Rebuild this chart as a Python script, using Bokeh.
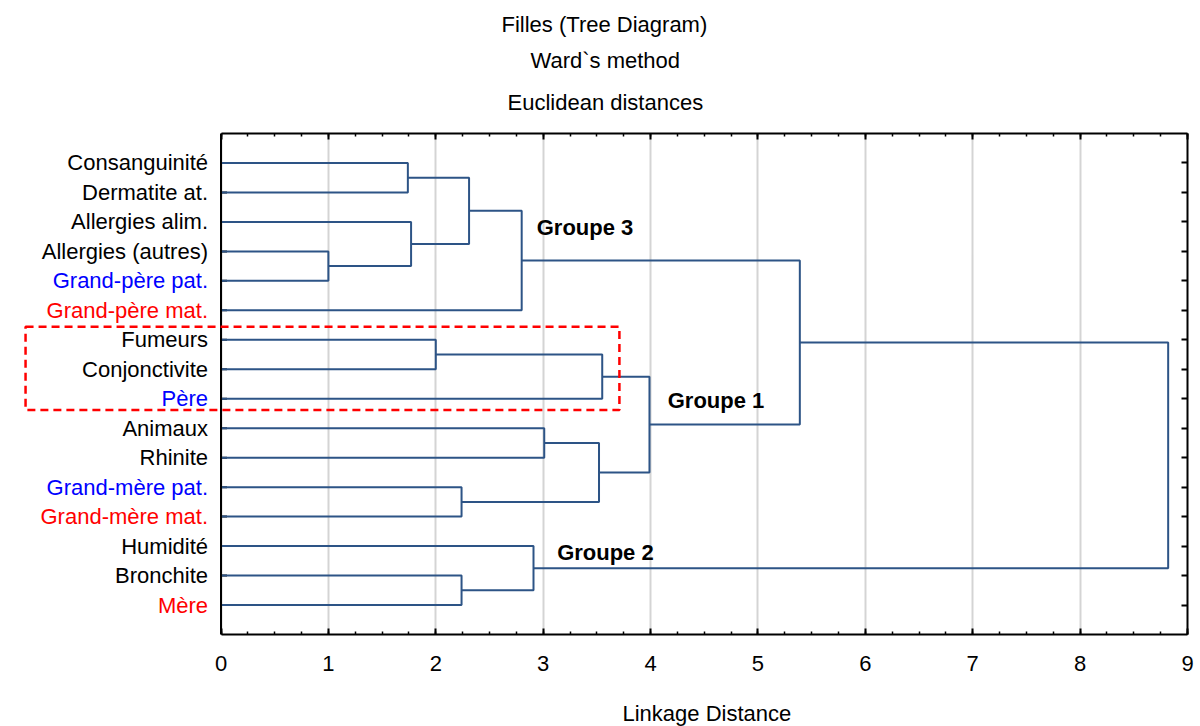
from bokeh.plotting import figure
from bokeh.models import (Range1d, FixedTicker, LinearAxis, BoxAnnotation, Span,
                          Title, CustomJSTickFormatter)
from bokeh.embed import file_html
from bokeh.resources import INLINE
from bokeh.core.properties import value

# Leaves, top to bottom
leaves = ["Consanguinité", "Dermatite at.", "Allergies alim.", "Allergies (autres)",
          "Grand-père pat.", "Grand-père mat.", "Fumeurs", "Conjonctivite", "Père",
          "Animaux", "Rhinite", "Grand-mère pat.", "Grand-mère mat.", "Humidité",
          "Bronchite", "Mère"]
leaf_colors = ["black", "black", "black", "black", "blue", "red", "black", "black",
               "blue", "black", "black", "blue", "red", "black", "black", "red"]

# Ward merges: node ids 0-15 are leaves, merge k creates node 16+k
merge_a = [3, 0, 2, 6, 11, 14, 17, 22, 13, 9, 25, 19, 27, 23, 29]
merge_b = [4, 1, 16, 7, 12, 15, 18, 5, 21, 10, 20, 8, 26, 28, 24]
merge_h = [1.00, 1.74, 1.77, 2.00, 2.24, 2.24, 2.31, 2.80, 2.91, 3.01, 3.52, 3.55,
           3.99, 5.39, 8.82]

x_ticks = list(range(10))
group_names = ["Groupe 3", "Groupe 1", "Groupe 2"]
titles = ["Filles (Tree Diagram)", "Ward`s method", "Euclidean distances"]
x_label = "Linkage Distance"

FONT = "Liberation Sans"
LINE = "#2d5486"
FS = "22px"

n = len(leaves)
node_x = [0.0] * n
node_y = [float(i) for i in range(n)]
xs, ys = [], []
for a, b, h in zip(merge_a, merge_b, merge_h):
    xs.append([node_x[a], h, h, node_x[b]])
    ys.append([node_y[a], node_y[a], node_y[b], node_y[b]])
    node_x.append(h)
    node_y.append((node_y[a] + node_y[b]) / 2)

# The frame also holds the leaf-name column on its left; the distance scale
# itself runs from 0 to 9 over the right part of it.
W, H = 1200, 726
border_r = 13
frame_w, axis_x0 = W - border_r, 220.5
xmax = x_ticks[-1]
unit = (frame_w - axis_x0) / xmax
x_start = -axis_x0 / unit

p = figure(width=W, height=H, output_backend="svg",
           toolbar_location=None, title=None,
           x_range=Range1d(x_start, xmax), y_range=Range1d(n, -1),
           min_border_left=0, min_border_right=border_r, min_border_top=133,
           min_border_bottom=92, x_axis_location=None, y_axis_location=None)
p.background_fill_color = "white"
p.border_fill_color = "white"
p.outline_line_color = None
p.ygrid.visible = False
p.xgrid.ticker = FixedTicker(ticks=x_ticks)
p.xgrid.grid_line_color = "#d4d4d4"
p.xgrid.grid_line_width = 2

minor = [i * 0.25 for i in range(4 * xmax + 1)]
blank = CustomJSTickFormatter(code="return ''")


def style_axis(ax, labels=True):
    ax.axis_line_color = "black"
    ax.axis_line_width = 2
    ax.major_tick_line_color = "black"
    ax.major_tick_line_width = 2
    ax.minor_tick_line_color = "black"
    ax.minor_tick_line_width = 1.5
    ax.major_tick_in = 6
    ax.major_tick_out = 0
    ax.minor_tick_in = 3
    ax.minor_tick_out = 0
    ax.major_label_text_font = FONT
    ax.major_label_text_font_size = FS
    ax.major_label_text_color = "black"
    if not labels:
        ax.formatter = blank
        ax.major_label_standoff = 0


bottom = LinearAxis(ticker=FixedTicker(ticks=x_ticks, minor_ticks=minor),
                    bounds=(0, xmax))
style_axis(bottom)
bottom.major_label_standoff = 21
p.add_layout(bottom, "below")

top = LinearAxis(ticker=FixedTicker(ticks=x_ticks, minor_ticks=minor),
                 bounds=(0, xmax))
style_axis(top, labels=False)
p.add_layout(top, "above")

right = LinearAxis(ticker=FixedTicker(ticks=list(range(n)), minor_ticks=[]))
style_axis(right, labels=False)
p.add_layout(right, "right")

# left edge of the distance scale, with a tick at every leaf
p.add_layout(Span(location=0, dimension="height", line_color="black", line_width=2))
p.ray(x=[0] * n, y=node_y[:n], length=6, length_units="screen", angle=0,
      line_color="black", line_width=2)

# dendrogram branches
p.multi_line(xs=xs, ys=ys, line_color=LINE, line_width=2)

# leaf names
p.text(x=[0] * n, y=node_y[:n], text=leaves, text_color=leaf_colors, x_offset=-13,
       text_align="right", text_baseline="middle", text_font=value(FONT),
       text_font_size=FS)

# cluster captions
gx = [2.94, 4.16, 3.13]
gy = [2.2, 8.05, 13.22]
p.text(x=gx, y=gy, text=group_names, text_font=value(FONT), text_font_size=FS,
       text_font_style="bold", text_baseline="middle", text_color="black")

# highlighted cluster
p.add_layout(BoxAnnotation(left=-1.82, right=3.71, top=5.56, bottom=8.38,
                           fill_alpha=0, line_color="red", line_alpha=1,
                           line_width=2.5, line_dash="8 5"))


def caption(text, left_px, standoff, valign):
    return Title(text=text, align="left", offset=left_px, text_font=FONT,
                 text_font_size=FS, text_font_style="normal", text_color="black",
                 standoff=standoff, vertical_align=valign)


# title lines, innermost first
title_left = [501, 530, 507]
title_standoff = [14, 0, 34]
title_valign = ["top", "bottom", "top"]
for t, lx, so, va in reversed(list(zip(titles, title_left, title_standoff,
                                       title_valign))):
    p.add_layout(caption(t, lx, so, va), "above")

# distance axis caption, centred under the 0-9 scale (kept on the lower line
# of a two-line box so it sits near the bottom edge)
p.add_layout(caption("\n" + x_label, 622, 0, "bottom"), "below")

open("out.html", "w").write(file_html(p, INLINE))
